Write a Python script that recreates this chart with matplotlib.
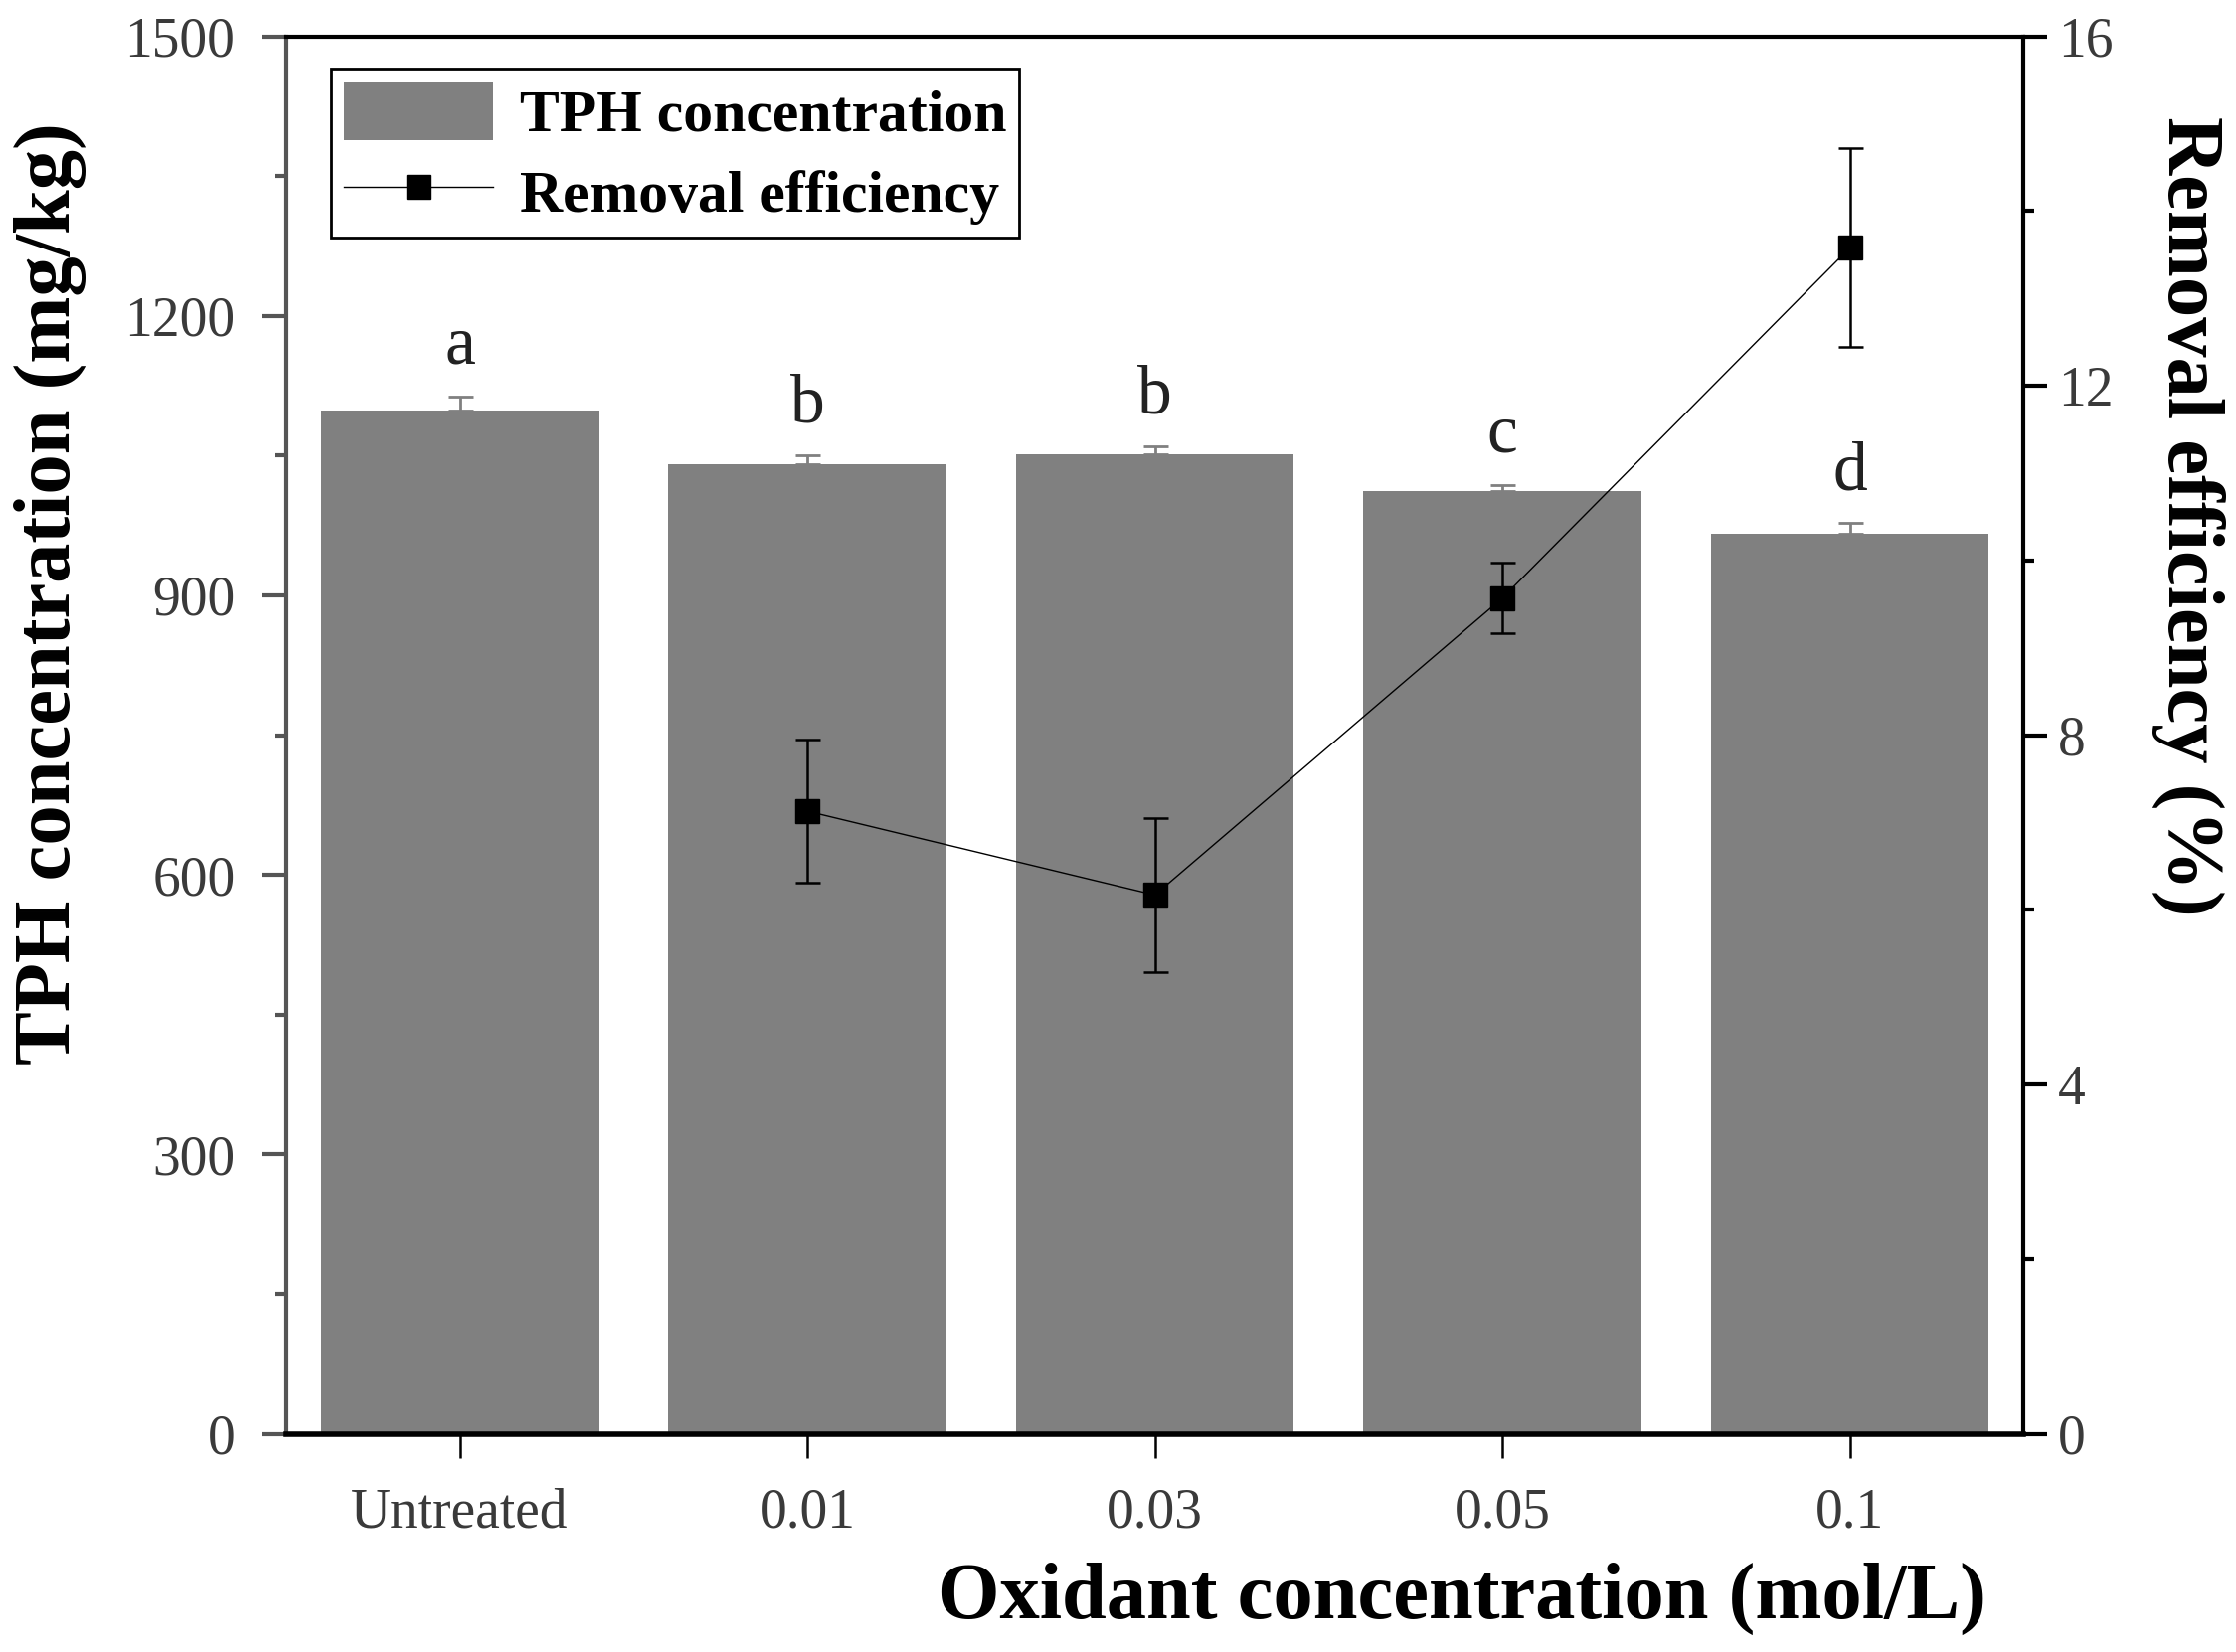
import numpy as np
import matplotlib
matplotlib.use('Agg')
import matplotlib.pyplot as plt
from matplotlib.ticker import MultipleLocator

plt.rcParams['font.family'] = ['Liberation Serif', 'DejaVu Serif']

categories = ['Untreated', '0.01', '0.03', '0.05', '0.1']
tph = [1098, 1041, 1051, 1012, 966]
tph_err = [15, 9, 9, 6, 12]
letters = ['a', 'b', 'b', 'c', 'd']

# removal efficiency only for the treated samples
rem_cats = ['0.01', '0.03', '0.05', '0.1']
removal = [7.13, 6.17, 9.57, 13.58]
removal_err = [0.82, 0.88, 0.40, 1.14]

x = np.arange(len(categories))
xr = np.array([categories.index(c) for c in rem_cats])

fig = plt.figure(figsize=(22.49, 16.62), dpi=100)
ax = fig.add_axes([0.128, 0.132, 0.777, 0.846])
ax2 = ax.twinx()

bars = ax.bar(x, tph, width=0.8, color='#808080', label='TPH concentration', zorder=2)
ax.errorbar(x, tph, yerr=[np.zeros(len(tph)), tph_err], fmt='none', ecolor='#808080',
            elinewidth=2, capsize=9, capthick=2, zorder=3)
for xi, t, e, l in zip(x, tph, tph_err, letters):
    ax.text(xi, t + e + 36, l, ha='center', va='baseline', fontsize=50, color='#222222')

line = ax2.errorbar(xr, removal, yerr=removal_err, fmt='-s', color='black', lw=1,
                    ms=17, elinewidth=1.8, capsize=9, capthick=1.8, label='Removal efficiency')

ax.set_xlim(-0.5, 4.5)
ax.set_ylim(0, 1500)
ax2.set_ylim(0, 16)
ax.set_xticks(x)
ax.set_xticklabels(categories)
ax.yaxis.set_major_locator(MultipleLocator(300))
ax.yaxis.set_minor_locator(MultipleLocator(150))
ax2.yaxis.set_major_locator(MultipleLocator(4))
ax2.yaxis.set_minor_locator(MultipleLocator(2))

tick_col = '#3a3a3a'
ax.tick_params(axis='x', direction='out', length=17, width=1.8, pad=22,
               labelsize=40, colors='black')
ax.tick_params(axis='x', labelcolor=tick_col)
ax.tick_params(axis='y', which='major', direction='out', length=17, width=3,
               pad=20, labelsize=40, color='#555555', labelcolor=tick_col)
ax.tick_params(axis='y', which='minor', direction='out', length=8, width=3, color='#555555')
ax2.tick_params(axis='y', which='major', direction='out', length=17, width=3,
                pad=8, labelsize=40, color='black', labelcolor=tick_col)
ax2.tick_params(axis='y', which='minor', direction='out', length=8, width=3, color='black')

for s in ['left', 'bottom', 'top']:
    ax2.spines[s].set_visible(False)
ax.spines['right'].set_visible(False)
ax.spines['left'].set_color('#555555')
ax.spines['left'].set_linewidth(3)
ax.spines['top'].set_linewidth(3)
ax.spines['bottom'].set_linewidth(4)
ax2.spines['right'].set_linewidth(3)

ax.set_xlabel('Oxidant concentration (mol/L)', fontsize=58, fontweight='bold')
ax.xaxis.set_label_coords(0.677, -0.118)
ax.xaxis.label.set_va('center')
ax.set_ylabel('TPH concentration (mg/kg)', fontsize=58, fontweight='bold')
ax.yaxis.set_label_coords(-0.136, 0.601)
ax.yaxis.label.set_va('center')
ax2.set_ylabel('Removal efficiency (%)', fontsize=58, fontweight='bold', rotation=-90)
ax2.yaxis.set_label_coords(1.095, 0.657)
ax2.yaxis.label.set_va('center')

leg = ax2.legend([bars, line[0]], ['TPH concentration', 'Removal efficiency'],
                 loc='upper left', bbox_to_anchor=(0.026, 0.977), borderaxespad=0,
                 fancybox=False, framealpha=1, edgecolor='black',
                 prop={'weight': 'bold', 'size': 43}, handlelength=2.5,
                 handleheight=1.15, labelspacing=0.3, handletextpad=0.45,
                 borderpad=0.22)
leg.get_frame().set_linewidth(2)

fig.savefig('out.png', dpi=100)
